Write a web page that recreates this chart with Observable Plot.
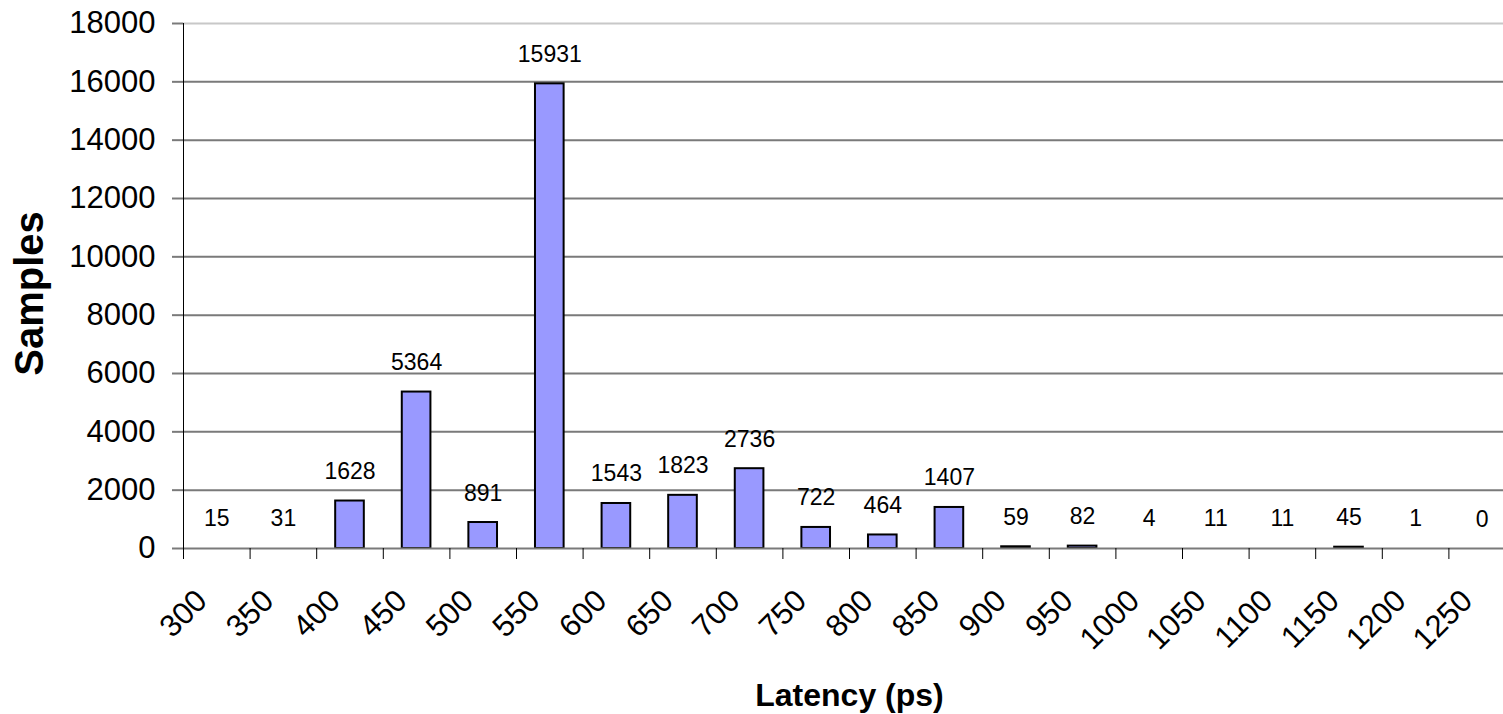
<!DOCTYPE html>
<html><head><meta charset="utf-8">
<script src="https://cdn.jsdelivr.net/npm/d3@7"></script>
<script src="https://cdn.jsdelivr.net/npm/@observablehq/plot@0.6"></script>
<style>html,body{margin:0;padding:0;background:#fff;overflow:hidden} svg{display:block}</style>
</head><body><div id="chart"></div>
<script>
// Latency bins (ps), category labels
const bins = [300, 350, 400, 450, 500, 550, 600, 650, 700, 750, 800, 850, 900, 950, 1000, 1050, 1100, 1150, 1200, 1250];
// Sample counts per bin
const samples = [15, 31, 1628, 5364, 891, 15931, 1543, 1823, 2736, 722, 464, 1407, 59, 82, 4, 11, 11, 45, 1, 0];
// Y axis tick values
const yTicks = [0, 2000, 4000, 6000, 8000, 10000, 12000, 14000, 16000, 18000];

const data = bins.map((b, i) => ({bin: b, n: samples[i]}));

const chart = Plot.plot({
  width: 1503, height: 714,
  marginTop: 23, marginBottom: 166, marginLeft: 183, marginRight: 0,
  style: {fontFamily: "Arial, 'Liberation Sans', sans-serif", background: "#fff", color: "#000", overflow: "hidden"},
  x: {type: "band", domain: bins, range: [183, 1515], round: false, paddingInner: 0.57, paddingOuter: 0.285, axis: null},
  y: {domain: [0, 18000], axis: null},
  marks: [
    Plot.ruleY(yTicks.filter(d => d > 0 && d < 18000), {stroke: "#7a7a7a", strokeWidth: 2}),
    Plot.ruleY([18000], {stroke: "#c8c8c8", strokeWidth: 2}),
    // Excel does not render bars thinner than about one pixel
    Plot.barY(data, {filter: d => d.n > 35, x: "bin", y: "n", fill: "#9999ff", stroke: "#000", strokeWidth: 2}),
    Plot.text(data, {x: "bin", y: "n", text: d => String(d.n), dy: -22, lineAnchor: "bottom", fontSize: 23}),
    Plot.ruleY([0], {stroke: "#7a7a7a", strokeWidth: 2}),
    Plot.axisY({ticks: yTicks, tickSize: 11, tickPadding: 17, fontSize: 31, label: null, stroke: "#7a7a7a", strokeWidth: 2, tickFormat: d => String(d)}),
    Plot.axisX({ticks: bins, tickSize: 11, tickFormat: () => "", label: null, dx: -33.3}),
    Plot.axisX({ticks: bins, tickSize: 0, tickPadding: 47, dx: -15, tickRotate: -45, fontSize: 31, label: null, tickFormat: d => String(d)}),
    Plot.frame({anchor: "left", stroke: "#000"}),
    Plot.text(["Samples"], {frameAnchor: "left", textAnchor: "middle", lineAnchor: "middle", dx: -153, dy: 7.5, rotate: -90, fontSize: 40, fontWeight: "bold"}),
    Plot.text(["Latency (ps)"], {frameAnchor: "bottom", textAnchor: "middle", lineAnchor: "bottom", dx: 6, dy: 157, fontSize: 32, fontWeight: "bold"})
  ]
});
document.getElementById("chart").appendChild(chart);
</script>
</body></html>
